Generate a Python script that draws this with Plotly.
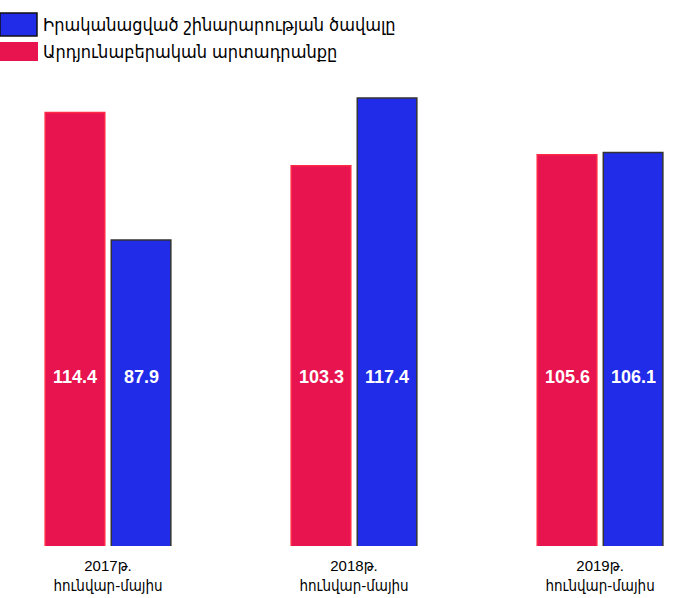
import plotly.graph_objects as go

categories = ["2017թ.<br>հունվար-մայիս", "2018թ.<br>հունվար-մայիս", "2019թ.<br>հունվար-մայիս"]
industry = [114.4, 103.3, 105.6]      # Արդյունաբերական արտադրանքը
construction = [87.9, 117.4, 106.1]   # Իրականացված շինարարության ծավալը
name_construction = "Իրականացված շինարարության ծավալը"
name_industry = "Արդյունաբերական արտադրանքը"

RED = "rgb(232,20,80)"
BLUE = "rgb(33,44,232)"
FONT = "Liberation Sans, Arial, DejaVu Sans Condensed, DejaVu Sans, sans-serif"

W, H = 681, 598
T, B = 60, 52
PH = H - T - B  # plot area height


def py(pix):
    """page pixel (from top) -> paper y"""
    return (H - B - pix) / PH


fig = go.Figure()
fig.add_trace(go.Bar(x=categories, y=industry, name=name_industry,
                     marker=dict(color=RED, line=dict(color="rgb(255,40,70)", width=1.5)),
                     showlegend=False))
fig.add_trace(go.Bar(x=categories, y=construction, name=name_construction,
                     marker=dict(color=BLUE, line=dict(color="#333333", width=1.5)),
                     showlegend=False))

annotations = []
for c, v in zip(categories, industry):
    annotations.append(dict(x=c, y=59.4, xref="x", yref="y", text=f"<b>{v:.1f}</b>",
                            showarrow=False, xshift=-33,
                            font=dict(color="white", size=18, family=FONT)))
for c, v in zip(categories, construction):
    annotations.append(dict(x=c, y=59.4, xref="x", yref="y", text=f"<b>{v:.1f}</b>",
                            showarrow=False, xshift=33,
                            font=dict(color="white", size=18, family=FONT)))

# legend drawn as shapes + text
annotations.append(dict(x=41 / W, y=py(25), xref="paper", yref="paper", text=name_construction,
                        showarrow=False, xanchor="left", yanchor="middle",
                        font=dict(color="black", size=18, family=FONT)))
annotations.append(dict(x=41 / W, y=py(52), xref="paper", yref="paper", text=name_industry,
                        showarrow=False, xanchor="left", yanchor="middle",
                        font=dict(color="black", size=18, family=FONT)))

fig.update_layout(
    width=W, height=H,
    margin=dict(l=0, r=0, t=T, b=B),
    barmode="group", bargap=0.463, bargroupgap=0.098,
    paper_bgcolor="white", plot_bgcolor="rgba(0,0,0,0)",
    xaxis=dict(range=[-0.439, 2.329], showgrid=False, zeroline=False, showline=False,
               ticks="", ticklabelstandoff=9, automargin=False,
               tickfont=dict(size=15, color="black", family=FONT)),
    yaxis=dict(range=[24.3, 125.3], visible=False),
    annotations=annotations,
)

fig.add_shape(type="rect", xref="paper", yref="paper",
              x0=0, x1=37 / W, y0=py(36), y1=py(13),
              fillcolor=BLUE, line=dict(color="#111111", width=1.5))
fig.add_shape(type="rect", xref="paper", yref="paper",
              x0=0, x1=38 / W, y0=py(61), y1=py(42),
              fillcolor=RED, line=dict(width=0))

fig.write_html("out.html", config={"displayModeBar": False},
               post_script="document.body.style.margin='0';")
